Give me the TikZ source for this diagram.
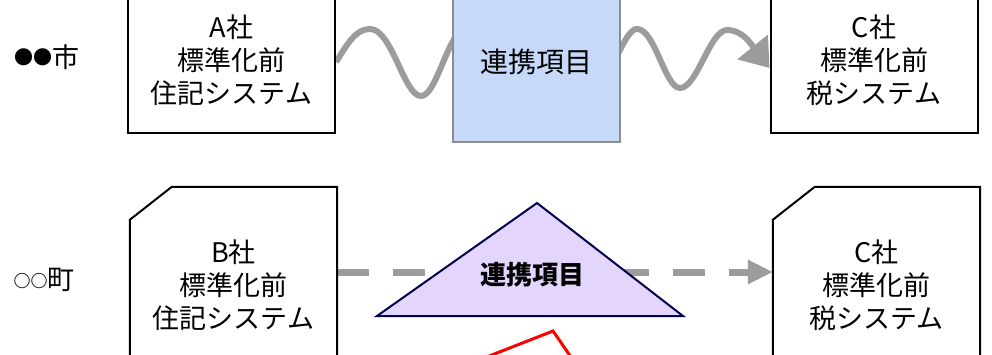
\documentclass[tikz,border=0pt]{standalone}
\usepackage{fontspec}
\setmainfont{Noto Sans CJK JP}
\usetikzlibrary{arrows.meta,backgrounds}
\definecolor{linkblue}{HTML}{C6D9F8}
\definecolor{linkpurple}{HTML}{E4D5FC}
\definecolor{navyline}{HTML}{000050}
\definecolor{flowgray}{HTML}{9C9C9C}
\newcommand{\chamfer}[1] {
    \draw[line width=2pt] (#1.south west) -- ([yshift=-33pt]#1.north west)
        -- ([xshift=42pt]#1.north west) -- (#1.north east) -- (#1.south east);
}
\tikzset{
    sysbox/.style={
        minimum width=207pt,
        minimum height=146pt,
        inner sep=0pt,
        align=center,
        fill=white,
        font=\fontsize{27}{33}\selectfont
    },
    oldbox/.style={sysbox,draw,line width=2pt},
    newbox/.style={sysbox,minimum height=196pt},
    linkbox/.style={
        draw=black!45,line width=2pt,fill=linkblue,
        minimum width=167pt,minimum height=160pt,
        font=\fontsize{28}{28}\selectfont
    },
    linktri/.style={draw=navyline,line width=2pt,fill=linkpurple,line join=miter},
    wavy/.style={draw=flowgray,line width=6pt,-{Triangle[length=27pt,width=38pt]}},
    dashlink/.style={draw=flowgray,line width=7pt,dash pattern=on 32pt off 24pt,
        -{Triangle[length=25pt,width=23pt]}},
    place/.style={font=\fontsize{27}{27}\selectfont}
}
\begin{document}
\begin{tikzpicture}[x=1pt,y=-1pt]
    \useasboundingbox (0,0) rectangle (992,354);
    \clip (0,0) rectangle (992,354);
    \node[place] (city) at (47,57) {\raisebox{2.5pt}{\fontsize{19}{19}\selectfont ●●}市};
    \node[place] (town) at (44,280) {\raisebox{2pt}{\fontsize{17}{17}\selectfont\bfseries ○○}町};
    \node[oldbox] (ka) at (231.5,60) {A社\\標準化前\\住記システム};
    \node[linkbox] (link) at (536.5,62) {連携項目};
    \node[oldbox] (ca) at (874,60) {C社\\標準化前\\税システム};
    \node[newbox] (kb) at (233.5,285) {B社\\標準化前\\住記システム};
    \chamfer{kb}
    \node[newbox] (kc) at (876.5,285) {C社\\標準化前\\税システム};
    \chamfer{kc}
    \draw[linktri] (377,316) -- (537,203) -- (683,316) -- cycle;
    \node[font=\fontsize{26}{26}\selectfont\bfseries] (tri) at (532,275) {連携項目};
    \begin{scope}[on background layer]
        \draw[wavy] ([yshift=-2pt]ka.east) .. controls (347,45) and (355,29) .. (370,29)
            .. controls (392,29) and (404,96) .. (421,96)
            .. controls (436,96) and (446,40) .. (465,25) -- (600,80)
            .. controls (615,70) and (625,29) .. (637,29)
            .. controls (655,29) and (665,88) .. (680,88)
            .. controls (697,88) and (710,30) .. (727,30)
            .. controls (745,30) and (755,50) .. ([yshift=-8pt]ca.west);
        \draw[dashlink] ([yshift=13pt]kb.east) -- ([yshift=13pt]kc.west);
    \end{scope}
    \draw[red,line width=3pt] (479,360) -- (553,331) -- (573,360);
\end{tikzpicture}
\end{document}
